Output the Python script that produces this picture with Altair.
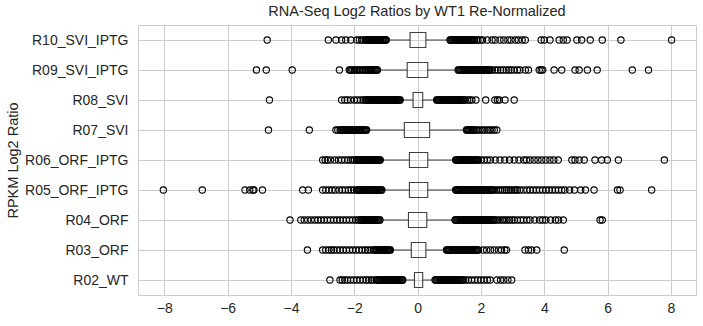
import altair as alt
import pandas as pd

categories = ["R10_SVI_IPTG", "R09_SVI_IPTG", "R08_SVI", "R07_SVI", "R06_ORF_IPTG",
              "R05_ORF_IPTG", "R04_ORF", "R03_ORF", "R02_WT"]
q1 = [-0.24, -0.33, -0.145, -0.42, -0.26, -0.26, -0.29, -0.20, -0.10]
q3 = [0.26, 0.32, 0.16, 0.38, 0.32, 0.32, 0.29, 0.26, 0.16]
whisker_lo = [-0.96, -1.22, -0.50, -1.55, -1.13, -1.08, -1.13, -0.80, -0.42]
whisker_hi = [0.97, 1.22, 0.54, 1.49, 1.15, 1.15, 1.13, 0.86, 0.50]

out_r10 = [-4.75, -2.82, -2.58, -2.40, -2.27, -2.11, -1.92, -1.84, -1.77, -1.70,
           -1.64, -1.61, -1.58, -1.55, -1.52, -1.49, -1.46, -1.43, -1.40, -1.37, -1.34, -1.31,
           -1.28, -1.25, -1.22, -1.19, -1.16, -1.13, -1.10, -1.07, -1.04, -1.01, -0.99,
           1.02, 1.05, 1.08, 1.11, 1.14, 1.17, 1.20, 1.23, 1.26, 1.29, 1.32, 1.35, 1.38, 1.41,
           1.44, 1.47, 1.50, 1.53, 1.56, 1.59, 1.62, 1.65, 1.68, 1.71, 1.74, 1.77, 1.80,
           1.86, 1.90, 1.98, 2.05, 2.20, 2.35, 2.45, 2.60, 2.72, 2.85, 2.95, 3.08, 3.18, 3.30,
           3.40, 3.90, 4.00, 4.18, 4.47, 4.60, 4.72, 5.03, 5.18, 5.45, 5.83, 6.42, 8.02]
out_r09 = [-5.09, -4.78, -3.96, -2.47, -2.16, -2.12, -2.08, -2.04, -1.99, -1.94, -1.89, -1.84,
           -1.79, -1.74, -1.69, -1.64, -1.60, -1.56, -1.53, -1.50, -1.47, -1.44, -1.41, -1.38,
           -1.35, -1.32, -1.29, -1.27,
           1.28, 1.31, 1.34, 1.37, 1.40, 1.43, 1.46, 1.49, 1.52, 1.55, 1.58, 1.61, 1.64, 1.67,
           1.70, 1.73, 1.76, 1.79, 1.82, 1.85, 1.88, 1.91, 1.94, 1.97, 2.00, 2.03, 2.06, 2.09,
           2.12, 2.15, 2.18, 2.21, 2.24, 2.27, 2.29,
           2.36, 2.45, 2.53, 2.62, 2.70, 2.80, 2.88, 2.95, 3.05, 3.15, 3.23, 3.40, 3.50, 3.84,
           3.90, 3.95, 4.31, 4.55, 4.97, 5.10, 5.36, 5.67, 6.78, 7.29]
out_r08 = [-4.68, -2.40, -2.30, -2.22, -2.12, -2.00, -1.90, -1.80, -1.72,
           -1.66, -1.63, -1.60, -1.57, -1.54, -1.51, -1.48, -1.45, -1.42, -1.39, -1.36, -1.33,
           -1.30, -1.27, -1.24, -1.21, -1.18, -1.15, -1.12, -1.09, -1.06, -1.03, -1.00, -0.97,
           -0.94, -0.91, -0.88, -0.85, -0.82, -0.79, -0.76, -0.73, -0.70, -0.67, -0.64, -0.61,
           -0.58, -0.55,
           0.60, 0.63, 0.66, 0.69, 0.72, 0.75, 0.78, 0.81, 0.84, 0.87, 0.90, 0.93, 0.96, 0.99,
           1.02, 1.05, 1.08, 1.11, 1.14, 1.17, 1.20, 1.23, 1.26, 1.29, 1.32, 1.35, 1.38, 1.41,
           1.44, 1.47, 1.50,
           1.58, 1.64, 1.71, 1.84, 2.15, 2.44, 2.52, 2.58, 2.76, 3.05]
out_r07 = [-4.71, -3.42, -2.58, -2.52,
           -2.45, -2.42, -2.39, -2.36, -2.33, -2.30, -2.27, -2.24, -2.21, -2.18, -2.15, -2.12,
           -2.09, -2.06, -2.03, -2.00, -1.97, -1.94, -1.91, -1.88, -1.85, -1.82, -1.79, -1.76,
           -1.73, -1.70, -1.67, -1.64, -1.61,
           1.54, 1.57, 1.60, 1.63, 1.66, 1.69, 1.72, 1.75, 1.78,
           1.84, 1.90, 1.97, 2.05, 2.12, 2.20, 2.28, 2.35, 2.42, 2.50]
out_r06 = [-3.00, -2.92, -2.85, -2.75, -2.62, -2.50, -2.40, -2.30, -2.20, -2.12, -2.05, -1.99,
           -1.93, -1.90, -1.87, -1.84, -1.81, -1.78, -1.75, -1.72, -1.69, -1.66, -1.63, -1.60,
           -1.57, -1.54, -1.51, -1.48, -1.45, -1.42, -1.39, -1.36, -1.33, -1.30, -1.27, -1.24,
           -1.21, -1.18,
           1.20, 1.23, 1.26, 1.29, 1.32, 1.35, 1.38, 1.41, 1.44, 1.47, 1.50, 1.53, 1.56, 1.59,
           1.62, 1.65, 1.68, 1.71, 1.74, 1.77, 1.80, 1.83, 1.86, 1.89, 1.92,
           2.00, 2.10, 2.20, 2.30, 2.45, 2.60, 2.75, 2.90, 3.05, 3.20, 3.35, 3.44, 3.55, 3.68,
           3.80, 3.92, 4.05, 4.18, 4.30, 4.44, 4.87, 4.97, 5.10, 5.26, 5.60, 5.81, 5.99, 6.34,
           7.79]
out_r05 = [-8.03, -6.80, -5.45, -5.30, -5.20, -5.17, -4.90, -3.63, -3.45, -3.00, -2.90, -2.80,
           -2.70, -2.60, -2.48, -2.38, -2.28, -2.18, -2.10, -2.02,
           -1.93, -1.90, -1.87, -1.84, -1.81, -1.78, -1.75, -1.72, -1.69, -1.66, -1.63, -1.60,
           -1.57, -1.54, -1.51, -1.48, -1.45, -1.42, -1.39, -1.36, -1.33, -1.30, -1.27, -1.24,
           -1.21, -1.18, -1.15, -1.13,
           1.20, 1.23, 1.26, 1.29, 1.32, 1.35, 1.38, 1.41, 1.44, 1.47, 1.50, 1.53, 1.56, 1.59,
           1.62, 1.65, 1.68, 1.71, 1.74, 1.77, 1.80, 1.83, 1.86, 1.89, 1.92, 1.95, 1.98, 2.01,
           2.04, 2.07, 2.10, 2.13, 2.16, 2.19, 2.22, 2.25, 2.28, 2.31, 2.34, 2.37, 2.40,
           2.48, 2.55, 2.62, 2.68, 2.75, 2.80, 2.86, 2.92, 2.98, 3.05, 3.10, 3.15, 3.23, 3.34,
           3.45, 3.55, 3.65, 3.75, 3.85, 3.95, 4.05, 4.15, 4.25, 4.35, 4.45, 4.55, 4.65, 4.80,
           4.95, 5.15, 5.30, 5.57, 6.31, 6.39, 7.39]
out_r04 = [-4.03, -3.69, -3.58, -3.47, -3.36, -3.25, -3.15, -3.05, -2.95, -2.85, -2.75, -2.65,
           -2.55, -2.45, -2.35, -2.25, -2.15, -2.05, -1.95, -1.88,
           -1.82, -1.79, -1.76, -1.73, -1.70, -1.67, -1.64, -1.61, -1.58, -1.55, -1.52, -1.49,
           -1.46, -1.43, -1.40, -1.37, -1.34, -1.31, -1.28, -1.25, -1.22, -1.19,
           1.18, 1.21, 1.24, 1.27, 1.30, 1.33, 1.36, 1.39, 1.42, 1.45, 1.48, 1.51, 1.54, 1.57,
           1.60, 1.63, 1.66, 1.69, 1.72, 1.75, 1.78, 1.81, 1.84, 1.87, 1.90, 1.93, 1.96, 1.99,
           2.02, 2.05, 2.08, 2.11, 2.14, 2.17, 2.20, 2.23, 2.26, 2.29, 2.32, 2.35, 2.38, 2.41,
           2.45,
           2.52, 2.60, 2.68, 2.75, 2.82, 2.90, 2.98, 3.05, 3.15, 3.25, 3.34, 3.45, 3.55, 3.70,
           3.85, 3.95, 4.05, 4.20, 4.35, 4.45, 4.60, 5.76, 5.83]
out_r03 = [-3.48, -3.00, -2.90, -2.80, -2.72, -2.65, -2.55, -2.45, -2.35, -2.25, -2.15, -2.05,
           -1.95, -1.85, -1.75, -1.65, -1.58, -1.50,
           -1.40, -1.37, -1.34, -1.31, -1.28, -1.25, -1.22, -1.19, -1.16, -1.13, -1.10, -1.07,
           -1.04, -1.01, -0.98, -0.95, -0.92, -0.89, -0.86,
           0.91, 0.94, 0.97, 1.00, 1.03, 1.06, 1.09, 1.12, 1.15, 1.18, 1.21, 1.24, 1.27, 1.30,
           1.33, 1.36, 1.39, 1.42, 1.45, 1.48, 1.51, 1.54, 1.57, 1.60, 1.63, 1.66, 1.69, 1.72,
           1.75, 1.78, 1.81, 1.84, 1.87, 1.90, 1.92,
           2.07, 2.18, 2.30, 2.42, 2.55, 2.65, 2.75, 2.81, 3.39, 3.50, 3.60, 3.76, 4.63]
out_r02 = [-2.77, -2.45, -2.38, -2.30, -2.22, -2.12, -2.02, -1.92, -1.82, -1.72, -1.62, -1.54,
           -1.46, -1.38,
           -1.30, -1.27, -1.24, -1.21, -1.18, -1.15, -1.12, -1.09, -1.06, -1.03, -1.00, -0.97,
           -0.94, -0.91, -0.88, -0.85, -0.82, -0.79, -0.76, -0.73, -0.70, -0.67, -0.64, -0.61,
           -0.58, -0.55, -0.52, -0.49, -0.47,
           0.55, 0.58, 0.61, 0.64, 0.67, 0.70, 0.73, 0.76, 0.79, 0.82, 0.85, 0.88, 0.91, 0.94,
           0.97, 1.00, 1.03, 1.06, 1.09, 1.12, 1.15, 1.18, 1.21, 1.24, 1.27, 1.30, 1.33, 1.36,
           1.39, 1.42, 1.45,
           1.52, 1.60, 1.70, 1.80, 1.90, 2.00, 2.10, 2.20, 2.29, 2.50, 2.62, 2.72, 2.85, 2.97]

outlier_lists = [out_r10, out_r09, out_r08, out_r07, out_r06, out_r05, out_r04, out_r03, out_r02]
x_ticks = [-8, -6, -4, -2, 0, 2, 4, 6, 8]

stats = pd.DataFrame({"cat": categories, "q1": q1, "q3": q3, "lo": whisker_lo, "hi": whisker_hi})
outs = pd.DataFrame(
    [{"cat": c, "v": v} for c, lst in zip(categories, outlier_lists) for v in lst]
)

FONT = "Liberation Sans"
TXT = "#262626"
EDGE = "#3f3f3f"

xscale = alt.Scale(domain=[-8.83, 8.79], nice=False, zero=False)
y_enc = alt.Y(
    "cat:N", sort=categories, scale=alt.Scale(type="point", padding=0.5),
    axis=alt.Axis(title="RPKM Log2 Ratio", labelPadding=10, titlePadding=4),
)
x_axis = alt.Axis(values=x_ticks, title=None, labelPadding=6, format="d")

base = alt.Chart(stats)

whisk_l = base.mark_rule(color=EDGE, strokeWidth=1).encode(
    x=alt.X("lo:Q", scale=xscale, axis=x_axis), x2="q1:Q", y=y_enc)
whisk_r = base.mark_rule(color=EDGE, strokeWidth=1).encode(
    x=alt.X("q3:Q", scale=xscale), x2="hi:Q", y=y_enc)
box = base.mark_bar(size=15, fillOpacity=0, stroke=EDGE, strokeWidth=1.1).encode(
    x=alt.X("q1:Q", scale=xscale), x2="q3:Q", y=y_enc)
cap_l = base.mark_tick(orient="vertical", size=7.5, thickness=1, color=EDGE).encode(
    x=alt.X("lo:Q", scale=xscale), y=y_enc)
cap_r = base.mark_tick(orient="vertical", size=7.5, thickness=1, color=EDGE).encode(
    x=alt.X("hi:Q", scale=xscale), y=y_enc)
pts = alt.Chart(outs).mark_point(shape="circle", filled=False, size=40, color="black",
                                 strokeWidth=1.1, opacity=1).encode(
    x=alt.X("v:Q", scale=xscale), y=y_enc)

chart = alt.layer(whisk_l, whisk_r, box, cap_l, cap_r, pts).properties(
    width=558, height=270,
    autosize=alt.AutoSizeParams(type="none"),
    padding={"left": 138, "top": 25, "right": 7, "bottom": 31},
    title=alt.TitleParams("RNA-Seq Log2 Ratios by WT1 Re-Normalized", font=FONT,
                          fontSize=14.5, fontWeight="normal", color=TXT, offset=6,
                          anchor="middle"),
    background="white",
).configure_axis(
    grid=True, gridColor="#cccccc", gridWidth=1, domain=False, ticks=False,
    labelFont=FONT, labelFontSize=14, labelColor=TXT,
    titleFont=FONT, titleFontSize=14.5, titleColor=TXT, titleFontWeight="normal",
).configure_view(stroke="#cccccc", strokeWidth=1)

chart.save("out.html", embed_options={"renderer": "svg", "actions": False})
